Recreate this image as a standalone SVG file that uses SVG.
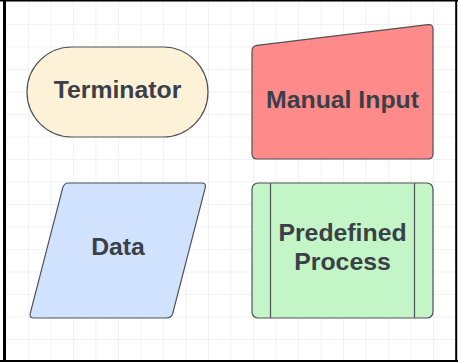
<svg xmlns="http://www.w3.org/2000/svg" width="458" height="362" viewBox="0 0 458 362">
  <defs>
    <pattern id="grid" x="5.5" y="1.5" width="22.5" height="22.5" patternUnits="userSpaceOnUse">
      <path d="M0,0 H22.5 M0,0 V22.5" fill="none" stroke="#e6e6e6" stroke-width="1"/>
    </pattern>
    <style>
      .shape { stroke: #4f5257; stroke-width: 1.2; }
      .label { font-family: "Liberation Sans", Arial, sans-serif; font-weight: bold; font-size: 24.8px; fill: #3a3f48; text-anchor: middle; }
    </style>
  </defs>

  <!-- canvas and grid -->
  <rect x="0" y="0" width="458" height="362" fill="#ffffff"/>
  <rect x="5" y="1" width="451" height="359" fill="url(#grid)"/>

  <!-- frame -->
  <g id="frame" stroke="#000000" fill="none">
    <line x1="0" y1="0.8" x2="458" y2="0.8" stroke-width="1.6"/>
    <line x1="4.5" y1="0" x2="4.5" y2="362" stroke-width="3"/>
    <line x1="456.2" y1="0" x2="456.2" y2="362" stroke-width="2"/>
    <line x1="0" y1="361" x2="458" y2="361" stroke-width="2"/>
  </g>

  <g id="connectors"></g>

  <!-- Terminator -->
  <g id="terminator">
    <rect class="shape" x="27" y="47" width="181" height="90" rx="45" fill="#fdf1d8"/>
    <text class="label" x="117.5" y="97.5">Terminator</text>
  </g>

  <!-- Manual Input -->
  <g id="manual-input">
    <path class="shape" fill="#ff8a8a" d="M252,154 L252,51 Q252,46 257,45.4 L428,24.6 Q433,24 433,29 L433,154 Q433,159 428,159 L257,159 Q252,159 252,154 Z"/>
    <text class="label" x="342.5" y="107.5">Manual Input</text>
  </g>

  <!-- Data -->
  <g id="data">
    <path class="shape" fill="#d0e2fd" d="M69,183 L201.5,183 Q206.5,183 205.2,187.8 L172.8,313.2 Q171.5,318 166.5,318 L34,318 Q29,318 30.3,313.2 L62.7,187.8 Q64,183 69,183 Z"/>
    <text class="label" x="118" y="255">Data</text>
  </g>

  <!-- Predefined Process -->
  <g id="predefined-process">
    <rect class="shape" x="252" y="183" width="181" height="135" rx="6" fill="#c3f5c6"/>
    <line class="shape" x1="270.5" y1="183" x2="270.5" y2="318"/>
    <line class="shape" x1="414.5" y1="183" x2="414.5" y2="318"/>
    <text class="label" x="342.5" y="240.5">Predefined</text>
    <text class="label" x="342.5" y="269.5">Process</text>
  </g>
</svg>
